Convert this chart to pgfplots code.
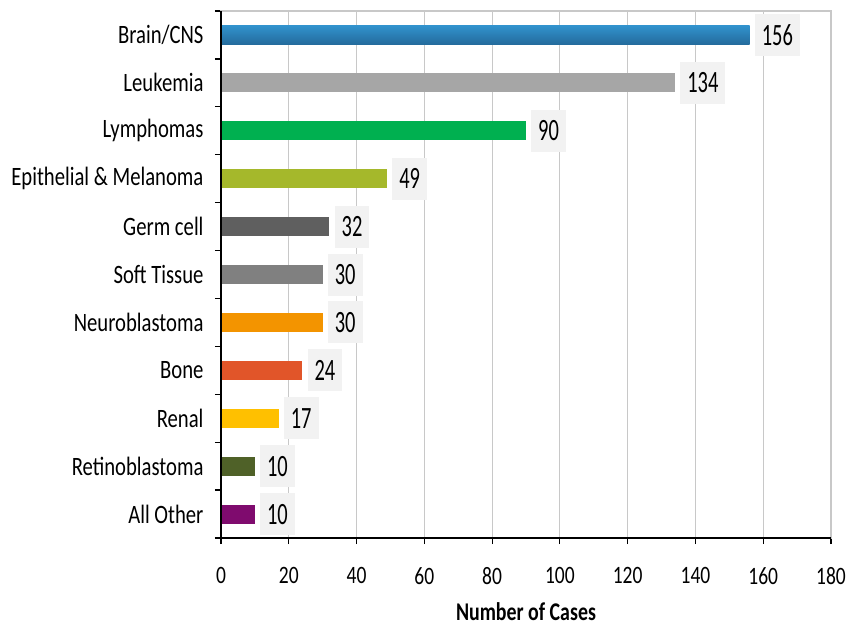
\documentclass[border=0pt]{standalone}
\usepackage{pgfplots}
\pgfplotsset{compat=1.18}
\usepackage{fontspec}
\setmainfont{Carlito}[FakeStretch=0.78]
\newfontfamily\valfont{Carlito}[FakeStretch=0.66]
\definecolor{cBlue}{HTML}{2B82BE}
\definecolor{cBlueTop}{HTML}{3192CD}
\definecolor{cBlueBot}{HTML}{246B9C}
\definecolor{cLeuk}{HTML}{A6A6A6}
\definecolor{cLymph}{HTML}{00B050}
\definecolor{cEpi}{HTML}{A5B82B}
\definecolor{cGerm}{HTML}{5F5F5F}
\definecolor{cSoft}{HTML}{808080}
\definecolor{cNeuro}{HTML}{F39400}
\definecolor{cBone}{HTML}{E15529}
\definecolor{cRenal}{HTML}{FFC000}
\definecolor{cRetino}{HTML}{4F6128}
\definecolor{cOther}{HTML}{7F0B6E}
\definecolor{gridgray}{HTML}{C8C8C8}
\definecolor{boxgray}{HTML}{F2F2F2}
\begin{document}
\begin{tikzpicture}
\useasboundingbox (-221pt,-91pt) rectangle (626pt,538pt);
\begin{axis}[
  at={(0,0)}, anchor=south west,
  scale only axis, width=610pt, height=527pt,
  xbar, bar width=19pt, clip=false,
  xmin=0, xmax=180, ymin=-0.5, ymax=10.5, y dir=reverse,
  xtick={0,20,...,180},
  xmajorgrids, grid style={color=gridgray, line width=1.2pt},
  ytick={-0.5,0.5,...,10.5}, yticklabels={},
  extra y ticks={0,1,2,3,4,5,6,7,8,9,10},
  extra y tick labels={Brain/CNS, Leukemia, Lymphomas, {Epithelial \& Melanoma}, Germ cell, Soft Tissue, Neuroblastoma, Bone, Renal, Retinoblastoma, All Other},
  extra y tick style={major tick length=0pt, grid=none,
     yticklabel style={font=\fontsize{26.5}{26.5}\selectfont, anchor=east, xshift=-14pt}},
  tick pos=left, tick align=outside, major tick length=6pt,
  tick style={black, line width=1.2pt},
  axis line style={gridgray, line width=1.2pt},
  /pgf/number format/assume math mode=true,
  xticklabel style={font=\fontsize{25}{25}\selectfont, yshift=-20pt},
  xlabel={\bfseries Number of Cases},
  xlabel style={font=\fontsize{25.5}{25.5}\selectfont, yshift=-11pt},
  nodes near coords,
  every node near coord/.append style={font=\valfont\fontsize{31}{31}\selectfont, text=black, fill=boxgray, inner xsep=7pt, inner ysep=0pt, minimum height=42pt, anchor=west, xshift=5pt},
]
\addplot[top color=cBlueTop, bottom color=cBlueBot, draw=none, bar shift=0pt] coordinates {(156,0)};
\addplot[fill=cLeuk, draw=none, bar shift=0pt] coordinates {(134,1)};
\addplot[fill=cLymph, draw=none, bar shift=0pt] coordinates {(90,2)};
\addplot[fill=cEpi, draw=none, bar shift=0pt] coordinates {(49,3)};
\addplot[fill=cGerm, draw=none, bar shift=0pt] coordinates {(32,4)};
\addplot[fill=cSoft, draw=none, bar shift=0pt] coordinates {(30,5)};
\addplot[fill=cNeuro, draw=none, bar shift=0pt] coordinates {(30,6)};
\addplot[fill=cBone, draw=none, bar shift=0pt] coordinates {(24,7)};
\addplot[fill=cRenal, draw=none, bar shift=0pt] coordinates {(17,8)};
\addplot[fill=cRetino, draw=none, bar shift=0pt] coordinates {(10,9)};
\addplot[fill=cOther, draw=none, bar shift=0pt] coordinates {(10,10)};
\draw[black, line width=1.5pt] (axis cs:0,-0.5) -- (axis cs:0,10.5) -- (axis cs:180,10.5);
\end{axis}
\end{tikzpicture}
\end{document}
